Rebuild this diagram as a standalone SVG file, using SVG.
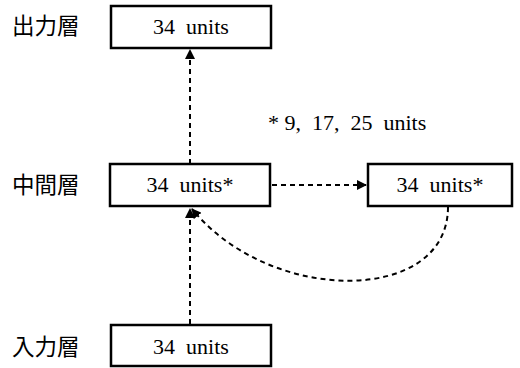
<svg xmlns="http://www.w3.org/2000/svg" width="520" height="368" viewBox="0 0 520 368">
<style>
text{white-space:pre}
.box{fill:#fff;stroke:#000;stroke-width:2.5}
.t{font-family:"Liberation Serif","Times New Roman",serif;font-size:22px;fill:#000;text-anchor:middle}
.lab{font-family:"Noto Sans CJK JP","Noto Sans CJK SC",sans-serif;font-size:22.5px;fill:#000}
.c{fill:none;stroke:#000;stroke-width:2;stroke-dasharray:5,4}
</style>
<defs>
<marker id="ah" viewBox="0 0 10 10" refX="9" refY="5" markerWidth="5" markerHeight="5" orient="auto" markerUnits="strokeWidth">
<path d="M0,0 L10,5 L0,10 z" fill="#000"/>
</marker>
</defs>
<rect width="520" height="368" fill="#fff"/>
<g id="labels">
<text class="lab" x="12" y="34" xml:space="preserve">出力層</text>
<text class="lab" x="12" y="193" xml:space="preserve">中間層</text>
<text class="lab" x="12" y="355" xml:space="preserve">入力層</text>
<text x="268" y="130" font-family="Liberation Serif, serif" font-size="22px" xml:space="preserve">* 9,  17,  25  units</text>
</g>
<g id="connectors">
<path class="c" d="M190,164 L190,50" marker-end="url(#ah)"/>
<path class="c" d="M272,185 L366,185" marker-end="url(#ah)"/>
<path class="c" d="M190,324 L190,209" marker-end="url(#ah)"/>
<path class="c" d="M448,207 C448,305 270,305 192,209" marker-end="url(#ah)"/>
</g>
<g id="output">
<rect class="box" x="111" y="6" width="160" height="42"/>
<text class="t" x="191" y="34" xml:space="preserve">34  units</text>
</g>
<g id="hidden">
<rect class="box" x="110" y="164" width="160" height="42"/>
<text class="t" x="190" y="192" xml:space="preserve">34  units*</text>
</g>
<g id="context">
<rect class="box" x="368" y="164" width="144" height="42"/>
<text class="t" x="440" y="192" xml:space="preserve">34  units*</text>
</g>
<g id="input">
<rect class="box" x="111" y="325" width="160" height="41"/>
<text class="t" x="191" y="354" xml:space="preserve">34  units</text>
</g>
</svg>
